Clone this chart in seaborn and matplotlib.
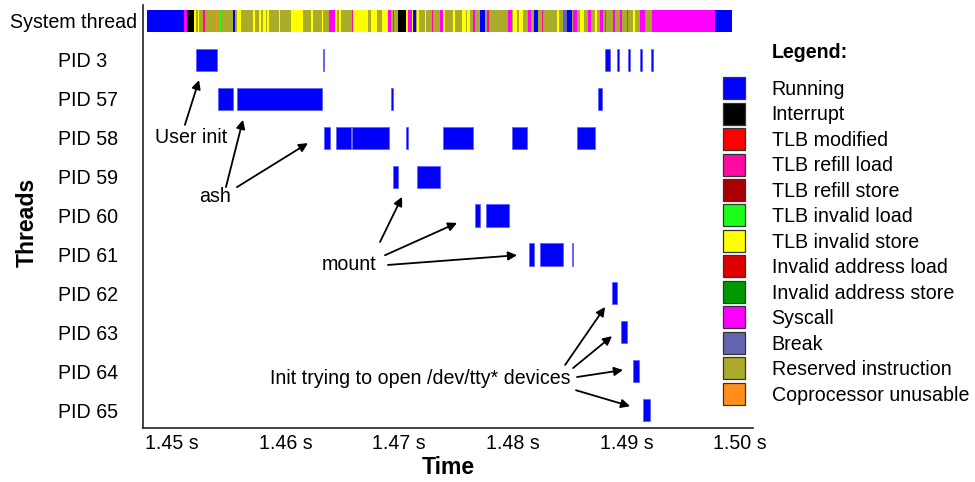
import numpy as np
import pandas as pd
import matplotlib
matplotlib.use("Agg")
import matplotlib.pyplot as plt
from matplotlib.lines import Line2D
import seaborn as sns

# ---------------- data ----------------
threads = ["System thread", "PID 3", "PID 57", "PID 58", "PID 59", "PID 60",
           "PID 61", "PID 62", "PID 63", "PID 64", "PID 65"]

state_codes = ["R", "I", "TM", "RL", "RS", "IL", "IS", "AL", "AS", "S", "B", "X", "C"]
state_names = ["Running", "Interrupt", "TLB modified", "TLB refill load", "TLB refill store",
               "TLB invalid load", "TLB invalid store", "Invalid address load",
               "Invalid address store", "Syscall", "Break", "Reserved instruction",
               "Coprocessor unusable"]
state_colors = ["#0000ff", "#000000", "#ff0000", "#ff0aa5", "#aa0000", "#1aff1a", "#ffff00",
                "#e00000", "#009a00", "#ff00ff", "#6464ae", "#abab2b", "#ff8f1a"]

# system thread: contiguous segments, start times in ms and state codes
sys_starts_ms = [1447.80, 1451.06, 1451.32, 1451.94, 1452.11, 1452.32, 1452.40, 1452.76, 1452.88,
                 1453.87, 1453.99, 1454.16, 1454.29, 1455.40, 1455.57, 1455.70, 1456.05, 1457.16,
                 1457.33, 1457.66, 1457.86, 1457.98, 1458.27, 1458.39, 1458.57, 1459.39, 1459.51,
                 1460.50, 1461.56, 1462.28, 1462.44, 1463.18, 1463.32, 1463.85, 1464.35, 1464.50,
                 1464.73, 1464.90, 1465.82, 1465.96, 1467.28, 1467.49, 1468.07, 1468.46, 1469.04,
                 1469.28, 1469.43, 1469.54, 1469.92, 1470.60, 1470.75, 1471.10, 1471.21, 1471.45,
                 1471.59, 1471.72, 1472.27, 1472.40, 1472.89, 1473.01, 1473.59, 1473.83, 1474.03,
                 1474.76, 1474.91, 1475.50, 1475.90, 1476.00, 1476.23, 1476.47, 1476.67, 1477.11,
                 1477.55, 1477.76, 1477.93, 1479.60, 1479.90, 1480.04, 1480.40, 1480.55, 1480.92,
                 1481.36, 1481.58, 1481.87, 1482.22, 1482.54, 1482.69, 1483.86, 1484.03, 1484.45,
                 1484.74, 1485.19, 1485.33, 1485.63, 1485.92, 1486.27, 1486.65, 1486.86, 1487.24,
                 1487.38, 1487.68, 1487.91, 1488.12, 1488.20, 1488.85, 1489.00, 1489.44, 1489.59,
                 1490.02, 1490.17, 1490.61, 1490.76, 1491.20, 1491.64, 1492.23, 1497.80, 1497.89]
sys_states = ["R", "S", "I", "IS", "X", "IS", "X", "RL", "X",
              "C", "X", "IL", "X", "R", "X", "IS", "X", "IS",
              "X", "IS", "X", "IS", "X", "IS", "X", "IS", "X",
              "IS", "X", "IS", "X", "IS", "X", "S", "IS", "X",
              "IS", "X", "RL", "IS", "X", "IS", "X", "IS", "S",
              "X", "S", "X", "I", "IS", "S", "IS", "R", "X",
              "IS", "X", "IS", "X", "RL", "X", "S", "IS", "X",
              "IS", "X", "IS", "X", "IS", "X", "S", "X", "R",
              "X", "RL", "X", "S", "X", "IS", "X", "IS", "X",
              "S", "X", "R", "X", "RL", "X", "IS", "X", "B",
              "R", "X", "S", "X", "IS", "X", "S", "X", "IS",
              "X", "S", "X", "S", "X", "S", "X", "S", "X",
              "S", "X", "IS", "X", "S", "X", "S", "I", "R"]
sys_end_ms = 1499.27

# running intervals of the processes (start ms, end ms)
pid3_ms = [(1452.11, 1453.96), (1463.29, 1463.41), (1488.12, 1488.56), (1489.17, 1489.35),
           (1490.14, 1490.32), (1491.20, 1491.37), (1492.17, 1492.34)]
pid57_ms = [(1454.05, 1455.37), (1455.72, 1463.20), (1469.32, 1469.45), (1487.50, 1487.85)]
pid58_ms = [(1463.38, 1463.91), (1464.44, 1465.80), (1465.85, 1469.10), (1470.64, 1470.77),
            (1473.86, 1476.50), (1479.93, 1481.25), (1485.65, 1487.24)]
pid59_ms = [(1469.45, 1469.89), (1471.57, 1473.59)]
pid60_ms = [(1476.67, 1477.11), (1477.64, 1479.67)]
pid61_ms = [(1481.43, 1481.87), (1482.39, 1484.42), (1485.21, 1485.32)]
pid62_ms = [(1488.73, 1489.17)]
pid63_ms = [(1489.52, 1490.05)]
pid64_ms = [(1490.58, 1491.11)]
pid65_ms = [(1491.46, 1492.08)]

tick_values = [1.45, 1.46, 1.47, 1.48, 1.49, 1.50]
tick_labels = ["1.45 s", "1.46 s", "1.47 s", "1.48 s", "1.49 s", "1.50 s"]

# ---------------- build tables ----------------
color_of = dict(zip(state_codes, state_colors))
sys_ends = sys_starts_ms[1:] + [sys_end_ms]
sys_df = pd.DataFrame({"thread": threads[0], "start": np.array(sys_starts_ms) / 1000,
                       "end": np.array(sys_ends) / 1000, "state": sys_states})
sys_df["color"] = sys_df["state"].map(color_of)

pid_lists = [pid3_ms, pid57_ms, pid58_ms, pid59_ms, pid60_ms, pid61_ms,
             pid62_ms, pid63_ms, pid64_ms, pid65_ms]
rows = []
for name, segs in zip(threads[1:], pid_lists):
    for s, e in segs:
        rows.append({"thread": name, "start": s / 1000, "end": e / 1000, "state": "R"})
pid_df = pd.DataFrame(rows)
pid_df["color"] = pid_df["state"].map(color_of)

row_of = {t: i for i, t in enumerate(threads)}
sys_df["row"] = sys_df["thread"].map(row_of)
pid_df["row"] = pid_df["thread"].map(row_of)

# ---------------- plot ----------------
sns.set_theme(style="white")
plt.rcParams["font.family"] = ["Liberation Sans", "DejaVu Sans"]
plt.rcParams["text.color"] = "black"
plt.rcParams["axes.labelcolor"] = "black"
plt.rcParams["xtick.color"] = "black"
plt.rcParams["ytick.color"] = "black"
FS = 14.1
FS_BOLD = 16.6

fig = plt.figure(figsize=(9.75, 4.82), dpi=100)
ax = fig.add_axes([143 / 975, 1 - 428 / 482, 610 / 975, 423 / 482])

ax.barh(sys_df["row"], sys_df["end"] - sys_df["start"], left=sys_df["start"],
        color=sys_df["color"], height=0.57, linewidth=0)
ax.barh(pid_df["row"], pid_df["end"] - pid_df["start"], left=pid_df["start"],
        color=pid_df["color"], height=0.57, linewidth=0.5, edgecolor="#5a5aff")

ax.set_xlim(1.44745, 1.50114)
ax.set_ylim(10.46, -0.41)
ax.set_xticks(tick_values)
ax.set_xticklabels(tick_labels, fontsize=FS)
ax.set_yticks(range(len(threads)))
ax.set_yticklabels(threads, fontsize=FS)
ax.tick_params(axis="x", length=0, pad=4.5)
ax.tick_params(axis="y", length=0, pad=61.2)
for lbl in ax.get_yticklabels():
    lbl.set_horizontalalignment("left")
first = ax.get_yticklabels()[0]
first.set_horizontalalignment("right")
first.set_x((137 + 85 - 143) / 610)

for side in ["top", "right"]:
    ax.spines[side].set_visible(False)
for side in ["left", "bottom"]:
    ax.spines[side].set_color("#222222")
    ax.spines[side].set_linewidth(1.2)

ax.set_xlabel("Time", fontsize=FS_BOLD, fontweight="bold")
ax.set_ylabel("Threads", fontsize=FS_BOLD, fontweight="bold")
ax.xaxis.label.set_va("center")
ax.xaxis.set_label_coords(0.5, (428 - 467) / 423)
ax.yaxis.label.set_va("center")
ax.yaxis.set_label_coords((27 - 143) / 610, (428 - 222) / 423)

# annotations
arrow_kw = dict(arrowstyle="-|>", color="black", lw=1.3, mutation_scale=13,
                shrinkA=0, shrinkB=0)

def arrow(x0, y0, x1, y1):
    ax.annotate("", xy=(x1, y1), xytext=(x0, y0), arrowprops=arrow_kw)

ax.text(1.45172, 3.0, "User init", fontsize=FS, ha="center", va="center")
arrow(1.45114, 2.67, 1.45238, 1.52)

ax.text(1.45379, 4.52, "ash", fontsize=FS, ha="center", va="center")
arrow(1.45475, 4.27, 1.45625, 2.54)
arrow(1.45572, 4.27, 1.46197, 3.14)

ax.text(1.46558, 6.27, "mount", fontsize=FS, ha="center", va="center")
arrow(1.46831, 5.68, 1.47025, 4.52)
arrow(1.46875, 6.02, 1.47509, 5.19)
arrow(1.46901, 6.27, 1.48037, 6.02)

ax.text(1.47183, 9.18, "Init trying to open /dev/tty* devices", fontsize=FS,
        ha="center", va="center")
arrow(1.48460, 8.84, 1.48812, 7.35)
arrow(1.48530, 8.92, 1.48873, 8.10)
arrow(1.48565, 9.15, 1.48970, 8.97)
arrow(1.48556, 9.49, 1.49032, 9.90)

# legend
handles = [Line2D([], [], marker="s", linestyle="none", markersize=15.5,
                  markerfacecolor=c, markeredgecolor="#333333", markeredgewidth=0.9)
           for c in state_colors]
fig.legend(handles, state_names, loc="upper left",
           bbox_to_anchor=(723 / 975, 1 - 80 / 482), frameon=False, fontsize=FS,
           borderpad=0, borderaxespad=0, handlelength=1.12, handleheight=0.7,
           handletextpad=1.36, labelspacing=0.33)
fig.text(772 / 975, 1 - 52 / 482, "Legend:", fontsize=FS, fontweight="bold",
         ha="left", va="center")

fig.savefig("out.png", dpi=100)
